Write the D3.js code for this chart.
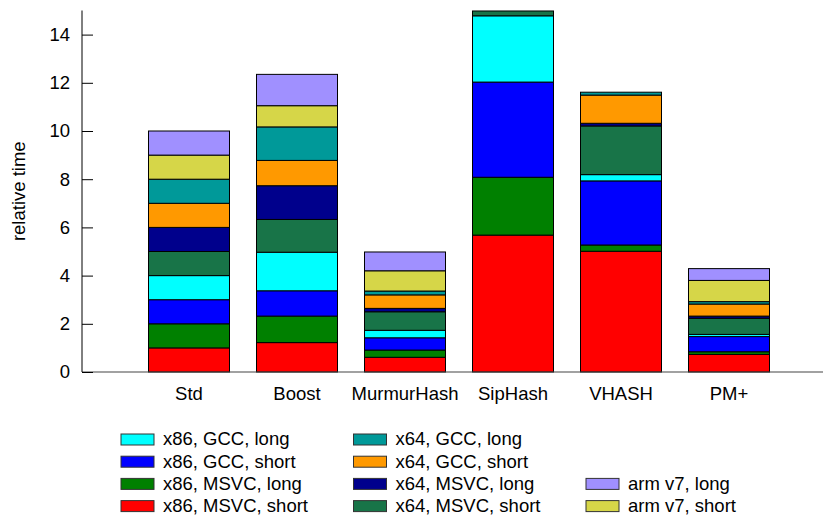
<!DOCTYPE html>
<html>
<head>
<meta charset="utf-8">
<script src="https://cdn.jsdelivr.net/npm/d3@7"></script>
<style>
  html, body { margin: 0; padding: 0; background: #fff; }
  svg { display: block; font-family: "Liberation Sans", Arial, sans-serif; }
</style>
</head>
<body>
<svg id="chart" width="825" height="516"></svg>
<script>
// ---- data ----
const categories = ["Std", "Boost", "MurmurHash", "SipHash", "VHASH", "PM+"];
const seriesNames = [
  "x86, MSVC, short", "x86, MSVC, long", "x86, GCC, short", "x86, GCC, long",
  "x64, MSVC, short", "x64, MSVC, long", "x64, GCC, short", "x64, GCC, long",
  "arm v7, short", "arm v7, long"
];
const x86MsvcShort = [1, 1.22, 0.61, 5.68, 5.01, 0.73];
const x86MsvcLong  = [1, 1.10, 0.30, 2.40, 0.26, 0.11];
const x86GccShort  = [1, 1.05, 0.51, 3.95, 2.66, 0.63];
const x86GccLong   = [1, 1.60, 0.31, 2.75, 0.26, 0.09];
const x64MsvcShort = [1, 1.36, 0.77, 0.20, 2.02, 0.67];
const x64MsvcLong  = [1, 1.40, 0.14, 0, 0.11, 0.09];
const x64GccShort  = [1, 1.05, 0.56, 0, 1.17, 0.50];
const x64GccLong   = [1, 1.39, 0.16, 0, 0.12, 0.10];
const armShort     = [1, 0.88, 0.84, 0, 0, 0.88];
const armLong      = [1, 1.30, 0.78, 0, 0, 0.49];
const seriesValues = [x86MsvcShort, x86MsvcLong, x86GccShort, x86GccLong,
  x64MsvcShort, x64MsvcLong, x64GccShort, x64GccLong, armShort, armLong];
const yTicks = [0, 2, 4, 6, 8, 10, 12, 14];
const colors = ["#ff0000", "#008000", "#0000ff", "#00ffff", "#187448",
  "#00008c", "#ff9900", "#009999", "#d6d648", "#a090ff"];
// legend layout: [series index, column, row]
const legendOrder = [[3,0,0],[2,0,1],[1,0,2],[0,0,3],[7,1,0],[6,1,1],[5,1,2],[4,1,3],[9,2,2],[8,2,3]];

// ---- build table ----
const table = categories.map((c, i) => {
  const row = { cat: c };
  seriesNames.forEach((s, j) => row[s] = seriesValues[j][i]);
  return row;
});
const stacked = d3.stack().keys(seriesNames)(table);

const FONT = 18.5;
const svg = d3.select("#chart");
const x = d3.scaleBand().domain(categories).range([135, 783]).paddingInner(0.25).paddingOuter(0.125);
const y = d3.scaleLinear().domain([0, 15]).range([372, 10.5]);

// bars
svg.append("g").selectAll("g").data(stacked).join("g")
  .attr("fill", (d, i) => colors[i])
  .selectAll("rect").data(d => d.filter(p => p[1] - p[0] > 0)).join("rect")
  .attr("x", d => x(d.data.cat))
  .attr("width", x.bandwidth())
  .attr("y", d => y(d[1]))
  .attr("height", d => y(d[0]) - y(d[1]))
  .attr("stroke", "#000")
  .attr("stroke-width", 1);

// x axis baseline
svg.append("line").attr("x1", 82).attr("x2", 823).attr("y1", y(0)).attr("y2", y(0))
  .attr("stroke", "#444").attr("stroke-width", 1.2);

// y axis
const yAxis = d3.axisRight(y).tickValues(yTicks).tickSize(11).tickFormat(d3.format("d"));
const gy = svg.append("g").attr("transform", "translate(82,0)").call(yAxis);
gy.select(".domain").attr("d", `M0,${y(15)}V${y(0)}`).attr("stroke", "#000");
gy.selectAll(".tick line").attr("stroke", "#000");
gy.selectAll(".tick text").attr("x", -12).attr("text-anchor", "end")
  .attr("font-size", FONT).attr("fill", "#000").attr("font-family", "Liberation Sans, Arial, sans-serif");

// y label
svg.append("text").attr("transform", `translate(25,${(y(0)+y(15))/2}) rotate(-90)`)
  .attr("text-anchor", "middle").attr("font-size", FONT).text("relative time");

// x labels
const xAxis = d3.axisBottom(x).tickSize(0).tickPadding(15);
const gx = svg.append("g").attr("transform", `translate(0,${y(0)})`).call(xAxis);
gx.select(".domain").remove();
gx.selectAll(".tick text").attr("font-size", FONT).attr("fill", "#000")
  .attr("font-family", "Liberation Sans, Arial, sans-serif");

// legend
const colX = [121, 353.5, 586];
const rowY = [439.5, 461.7, 483.9, 506.1];
const lg = svg.append("g").selectAll("g").data(legendOrder).join("g")
  .attr("transform", d => `translate(${colX[d[1]]},${rowY[d[2]]})`);
lg.append("rect").attr("x", 0).attr("y", -5.5).attr("width", 33).attr("height", 11)
  .attr("fill", d => colors[d[0]]).attr("stroke", "#333").attr("stroke-width", 1);
lg.append("text").attr("x", 42).attr("dy", "0.32em").attr("font-size", FONT)
  .text(d => seriesNames[d[0]]);
</script>
</body>
</html>
